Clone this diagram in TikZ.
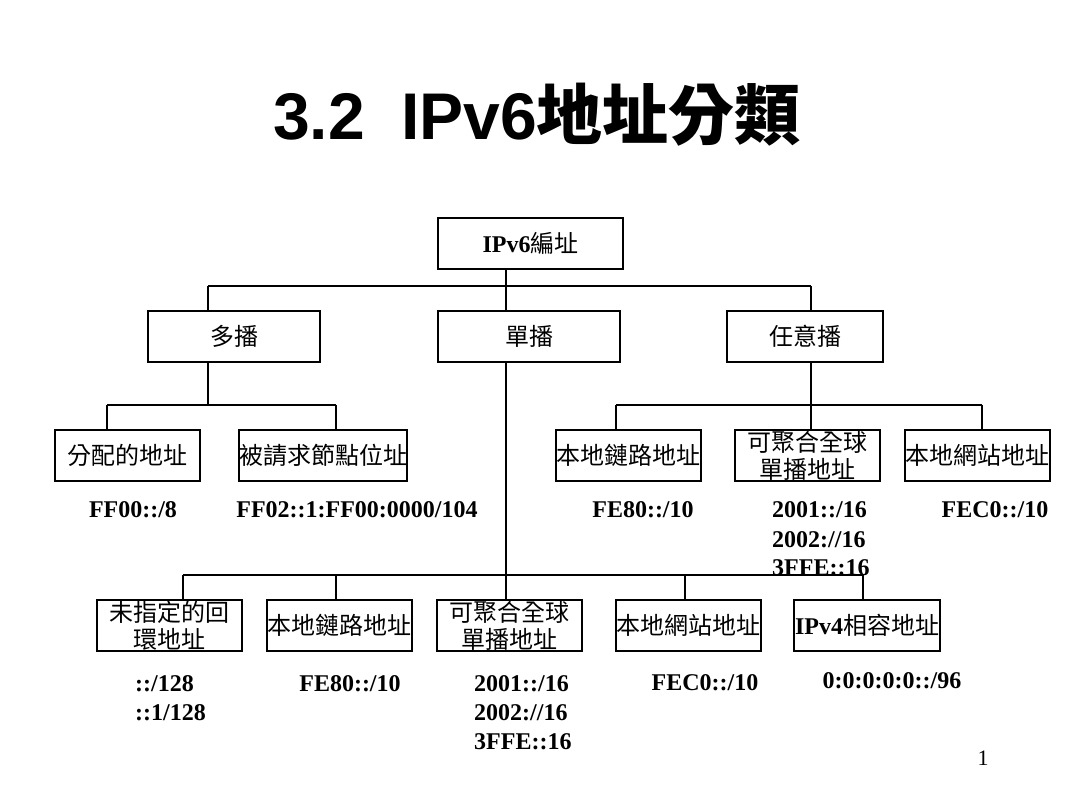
\documentclass[tikz,border=0pt]{standalone}
\usepackage{fontspec}
\setmainfont{Liberation Serif}
\newfontfamily\cjk{Noto Sans CJK TC}
\newfontfamily\titlesans{Liberation Sans}
\newcommand{\addrlines}[1]{\begin{tabular}[t]{@{}l@{}}#1\end{tabular}}
\begin{document}
\begin{tikzpicture}[x=1pt,y=-1pt,
  box/.style={draw,line width=1.1pt,inner sep=0pt,minimum height=51pt,align=center,
    font=\cjk\fontsize{24}{27}\selectfont},
  rootbox/.style={box,line width=2pt},
  bar/.style={line width=1.8pt},
  conn/.style={line width=1.1pt},
  addr/.style={inner sep=0pt,font=\bfseries\fontsize{24}{29}\selectfont}
]
\useasboundingbox[fill=white] (0,0) rectangle (1080,810);

% title
\node[anchor=base,inner sep=0pt] (title) at (537,140)
  {\fontsize{66}{72}\selectfont\titlesans\bfseries 3.2\hspace{0.55em}IPv6{\cjk\bfseries 地址分類}};

% level 0 and 1
\node[rootbox,minimum width=185pt] (root) at (530.5,243.5)
  {{\rmfamily\bfseries IPv6}編址};
\node[box,minimum width=172pt] (mc) at (234,336.5) {多播};
\node[box,minimum width=182pt] (uc) at (529,336.5) {單播};
\node[box,minimum width=156pt] (ac) at (805,336.5) {任意播};

% multicast children
\node[box,minimum width=145pt] (m1) at (127.5,455.5) {分配的地址};
\node[box,minimum width=162pt] (m2) at (323,455.5) {被請求節點位址};

% anycast children
\node[box,minimum width=145pt] (a1) at (628.5,455.5) {本地鏈路地址};
\node[box,minimum width=145pt] (a2) at (807.5,455.5) {可聚合全球\\單播地址};
\node[box,minimum width=145pt] (a3) at (977.5,455.5) {本地網站地址};

% unicast children
\node[box,minimum width=145pt] (u1) at (169.5,625.5) {未指定的回\\環地址};
\node[box,minimum width=145pt] (u2) at (339.5,625.5) {本地鏈路地址};
\node[box,minimum width=145pt] (u3) at (509.5,625.5) {可聚合全球\\單播地址};
\node[box,minimum width=145pt] (u4) at (688.5,625.5) {本地網站地址};
\node[box,minimum width=146pt] (u5) at (867,625.5) {{\rmfamily\bfseries IPv4}相容地址};

% bar coordinates
\coordinate (r0) at (506,286);
\coordinate (r1) at (208,286);
\coordinate (r2) at (811,286);
\coordinate (m0) at (208,405);
\coordinate (mL) at (107,405);
\coordinate (mR) at (336,405);
\coordinate (a0) at (811,405);
\coordinate (aL) at (616,405);
\coordinate (aR) at (982,405);
\coordinate (u0) at (506,575);
\coordinate (uL) at (183,575);
\coordinate (uR) at (863,575);
\coordinate (u2c) at (336,575);
\coordinate (u4c) at (685,575);

% level 1 connectors
\draw[bar] (r1) -- (r2);
\draw[conn] (root.south -| r0) -- (uc.north -| r0);
\draw[conn] (r1) -- (mc.north -| r1);
\draw[conn] (r2) -- (ac.north -| r2);

% multicast connectors
\draw[conn] (mc.south -| m0) -- (m0);
\draw[bar] (mL) -- (mR);
\draw[conn] (mL) -- (m1.north -| mL);
\draw[conn] (mR) -- (m2.north -| mR);

% anycast connectors
\draw[conn] (ac.south -| a0) -- (a0);
\draw[bar] (aL) -- (aR);
\draw[conn] (aL) -- (a1.north -| aL);
\draw[conn] (a0) -- (a2.north -| a0);
\draw[conn] (aR) -- (a3.north -| aR);

% unicast connectors
\draw[conn] (uc.south -| u0) -- (u0);
\draw[bar] (uL) -- (uR);
\draw[conn] (uL) -- (u1.north -| uL);
\draw[conn] (u2c) -- (u2.north -| u2c);
\draw[conn] (u0) -- (u3.north -| u0);
\draw[conn] (u4c) -- (u4.north -| u4c);
\draw[conn] (uR) -- (u5.north -| uR);

% addresses
\node[addr,anchor=base] (t1) at (133,518) {FF00::/8};
\node[addr,anchor=base] (t2) at (357,518) {FF02::1:FF00:0000/104};
\node[addr,anchor=base] (t3) at (643,518) {FE80::/10};
\node[addr,anchor=base west] (t4) at (772,518) {\addrlines{2001::/16\\2002://16\\3FFE::16}};
\node[addr,anchor=base] (t5) at (995,518) {FEC0::/10};

\node[addr,anchor=base west] (s1) at (135,691) {\addrlines{::/128\\::1/128}};
\node[addr,anchor=base] (s2) at (350,691) {FE80::/10};
\node[addr,anchor=base west] (s3) at (474,691) {\addrlines{2001::/16\\2002://16\\3FFE::16}};
\node[addr,anchor=base] (s4) at (705,690) {FEC0::/10};
\node[addr,anchor=base] (s5) at (892,688) {0:0:0:0:0::/96};

\node[anchor=base,inner sep=0pt,font=\fontsize{22}{26}\selectfont] (pg) at (983,765) {1};
\end{tikzpicture}
\end{document}
